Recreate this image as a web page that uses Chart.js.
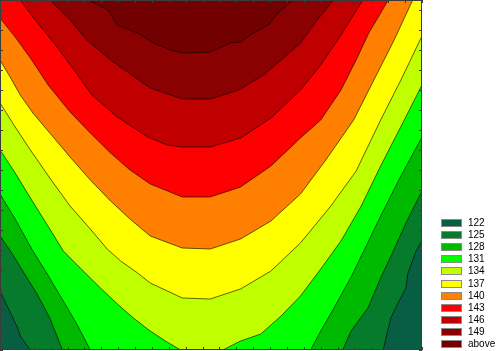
<!DOCTYPE html>
<html>
<head>
<meta charset="utf-8">
<script src="https://cdn.jsdelivr.net/npm/chart.js@4.4.1/dist/chart.umd.min.js"></script>
<style>
  html, body { margin: 0; padding: 0; background: #fff; }
  #wrap { position: relative; width: 500px; height: 351px; }
  #legend { position: absolute; left: 441px; top: 217px; font: 10px "Liberation Sans", Arial, sans-serif; color: #000; }
  .row { height: 12.1px; display: flex; align-items: center; }
  .box { width: 19px; height: 6px; border: 1px solid #8a8a8a; }
  .lbl { margin-left: 6px; line-height: 10px; }
</style>
</head>
<body>
<div id="wrap">
  <canvas id="contour" width="500" height="351"></canvas>
  <div id="legend"></div>
</div>
<script>
// contour levels and legend entries
const levels = [122, 125, 128, 131, 134, 137, 140, 143, 146, 149];
const legendLabels = ['122', '125', '128', '131', '134', '137', '140', '143', '146', '149', 'above'];
const bandColors = ['#085e43', '#077b2c', '#00ba00', '#00ff00', '#bfff00', '#ffff00', '#ff8000', '#ff0000', '#c00000', '#8b0000', '#720000'];

// contour lines, [x, y] with x 0..50, y 0..35
const c122 = [[0, 5.9], [2.1, 2.2], [2.4, 1.4], [3.6, 0], [45.4, 0], [46.3, 3.2], [47.1, 4.6], [48.1, 6.2], [48.3, 7.6], [49.3, 9.9], [50, 10.9]];
const c125 = [[0, 11.4], [1.4, 9.7], [2.7, 7.9], [4.4, 5.6], [5.9, 3.2], [7.4, 0], [40.6, 0], [41.6, 1.9], [43.6, 4.2], [45.1, 7.2], [46.6, 9.9], [48.1, 12.7], [50, 15.9]];
const c128 = [[0, 15.6], [1.8, 13.1], [3.9, 9.9], [5.6, 7.6], [7.5, 4.9], [9.1, 2.6], [10.7, 0], [36.8, 0], [38.0, 1.9], [39.5, 4.1], [41.6, 7.3], [43.1, 9.9], [45.1, 13.4], [47.5, 17.4], [50, 21.3]];
const c131 = [[0, 20.0], [1.8, 17.7], [3.6, 15.2], [5.9, 12.1], [7.5, 9.9], [9.5, 8.2], [11.9, 6.2], [13.9, 4.6], [15.8, 3.2], [17.8, 1.9], [19.6, 0.9], [21.4, 0], [26.4, 0], [28.5, 0.9], [30.9, 1.6], [33.3, 3.4], [35.6, 5.4], [38.0, 8.1], [40.4, 10.9], [42.8, 14.4], [45.1, 18.4], [47.9, 23.0], [50, 26.5]];
const c134 = [[0, 24.7], [1.8, 22.3], [3.6, 20.0], [5.9, 17.2], [8.3, 14.4], [10.7, 12.1], [12.7, 10.1], [14.3, 8.9], [16.3, 7.7], [17.8, 6.7], [21.6, 5.2], [24.9, 5.1], [28.5, 6.1], [32.1, 7.9], [35.6, 10.7], [39.2, 14.4], [42.2, 17.9], [45.1, 23.0], [47.5, 27.0], [50, 31.4]];
const c137 = [[0, 29.0], [1.2, 27.3], [2.4, 25.5], [3.9, 23.7], [5.9, 21.7], [8.3, 19.3], [10.7, 17.0], [13.1, 14.9], [15.4, 13.1], [17.8, 11.4], [21.6, 10.2], [24.9, 10.1], [28.5, 11.1], [32.1, 12.9], [35.6, 15.6], [38.6, 19.0], [41.9, 23.0], [44.3, 27.0], [46.7, 31.0], [48.9, 35], [50, 35]];
const c140 = [[0, 33.2], [1.8, 31.3], [3.6, 29.2], [5.7, 26.5], [8.3, 23.8], [10.7, 21.7], [13.1, 19.7], [15.4, 18.0], [17.8, 16.6], [21.6, 15.3], [24.9, 15.3], [28.5, 16.3], [32.1, 18.4], [35.6, 21.2], [38.0, 23.0], [40.4, 26.0], [42.2, 29.0], [43.7, 31.7], [45.1, 33.7], [46.0, 35], [50, 35]];
const c143 = [[0, 35], [2.4, 35], [3.9, 33.3], [6.3, 30.8], [8.6, 28.2], [10.9, 25.5], [13.9, 23.3], [17.5, 21.3], [19.8, 20.5], [21.6, 20.3], [24.9, 20.3], [28.5, 21.2], [32.1, 23.2], [35.6, 26.0], [38.0, 28.5], [40.4, 31.5], [43.0, 35], [50, 35]];
const c146 = [[0, 35], [5.9, 35], [8.0, 33.3], [10.3, 31.0], [13.1, 29.0], [15.1, 27.8], [17.8, 26.2], [21.6, 25.1], [24.9, 25.1], [28.3, 26.0], [31.2, 27.5], [33.6, 29.2], [35.6, 30.7], [37.4, 32.8], [39.5, 35], [50, 35]];
const c149 = [[0, 35], [10.5, 35], [12.8, 34.0], [13.9, 32.5], [16.3, 31.7], [18.2, 30.7], [20.2, 30.0], [21.6, 29.7], [24.9, 29.8], [27.3, 30.7], [28.5, 30.8], [30.0, 31.7], [31.8, 32.5], [32.9, 33.7], [34.7, 35], [50, 35]];

const curves = [c122, c125, c128, c131, c134, c137, c140, c143, c146, c149];

// everything below each line is one band lower, so paint the lowest band first
const areaBackground = {
  id: 'areaBackground',
  beforeDatasetsDraw(chart) {
    const {ctx, chartArea: a} = chart;
    ctx.save();
    ctx.fillStyle = bandColors[0];
    ctx.fillRect(a.left, a.top, a.right - a.left, a.bottom - a.top);
    ctx.restore();
  }
};

// frame with small inward ticks on all four sides
const frame = {
  id: 'frame',
  afterDatasetsDraw(chart) {
    const {ctx, chartArea: a, scales} = chart;
    ctx.save();
    ctx.strokeStyle = '#3c3c3c';
    ctx.lineWidth = 1;
    ctx.beginPath();
    scales.x.ticks.forEach(t => {
      const px = Math.round(scales.x.getPixelForValue(t.value)) + 0.5;
      ctx.moveTo(px, a.bottom); ctx.lineTo(px, a.bottom - 3);
      ctx.moveTo(px, a.top); ctx.lineTo(px, a.top + 3);
    });
    scales.y.ticks.forEach(t => {
      const py = Math.round(scales.y.getPixelForValue(t.value)) + 0.5;
      ctx.moveTo(a.left, py); ctx.lineTo(a.left + 3, py);
      ctx.moveTo(a.right, py); ctx.lineTo(a.right - 3, py);
    });
    ctx.stroke();
    ctx.strokeRect(a.left + 0.5, a.top + 0.5, a.right - a.left - 1, a.bottom - a.top - 1);
    ctx.restore();
  }
};

const chart = new Chart(
  document.getElementById('contour'),
  {
    type: 'line',
    data: {
      datasets: levels.map((lv, i) => ({
        label: String(lv),
        data: curves[i].map(p => ({x: p[0], y: p[1]})),
        fill: 'end',
        backgroundColor: bandColors[i + 1],
        borderColor: 'rgba(0, 0, 0, 0.6)',
        borderWidth: 1,
        pointRadius: 0,
        tension: 0,
        order: -i
      }))
    },
    options: {
      responsive: false,
      animation: false,
      devicePixelRatio: 1,
      events: [],
      layout: { padding: { left: 0, top: 0, right: 78, bottom: 1 } },
      scales: {
        x: { type: 'linear', min: 0, max: 50, display: false, ticks: { stepSize: 1 } },
        y: { type: 'linear', min: 0, max: 35, display: false, ticks: { stepSize: 1 } }
      },
      plugins: {
        legend: { display: false },
        tooltip: { enabled: false }
      }
    },
    plugins: [areaBackground, frame]
  }
);

// legend, lowest band on top
const legend = document.getElementById('legend');
legendLabels.forEach((txt, i) => {
  const row = document.createElement('div');
  row.className = 'row';
  const box = document.createElement('div');
  box.className = 'box';
  box.style.background = bandColors[i];
  const lbl = document.createElement('span');
  lbl.className = 'lbl';
  lbl.textContent = txt;
  row.appendChild(box);
  row.appendChild(lbl);
  legend.appendChild(row);
});
</script>
</body>
</html>
